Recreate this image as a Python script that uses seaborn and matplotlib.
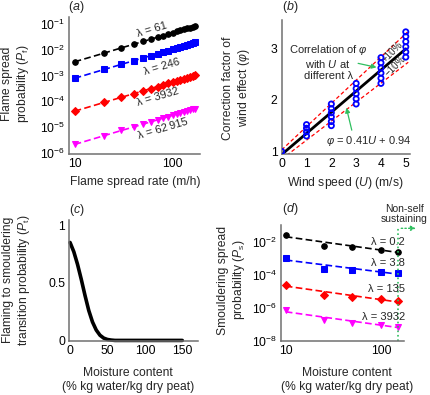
import numpy as np
import seaborn as sns
import matplotlib
matplotlib.use('Agg')
import matplotlib.pyplot as plt
from matplotlib.ticker import FixedLocator, NullLocator, FixedFormatter

# ---- panel (a): flame spread probability vs flame spread rate
spreadRate = [10, 20, 30, 40, 50, 60, 70, 80, 90, 100, 110, 120, 130, 140, 150, 160, 170]
pfLam61 = [3.4e-3, 7.4e-3, 1.18e-2, 1.63e-2, 2.09e-2, 2.57e-2, 3.06e-2, 3.56e-2, 4.07e-2,
	4.59e-2, 5.11e-2, 5.64e-2, 6.17e-2, 6.72e-2, 7.26e-2, 7.81e-2, 8.37e-2]
pfLam246 = [7.8e-4, 1.71e-3, 2.7e-3, 3.74e-3, 4.8e-3, 5.9e-3, 7.0e-3, 8.2e-3, 9.3e-3,
	1.05e-2, 1.17e-2, 1.29e-2, 1.42e-2, 1.54e-2, 1.67e-2, 1.79e-2, 1.92e-2]
pfLam3932 = [4.1e-5, 9.0e-5, 1.42e-4, 1.96e-4, 2.53e-4, 3.1e-4, 3.7e-4, 4.3e-4, 4.9e-4,
	5.5e-4, 6.2e-4, 6.8e-4, 7.4e-4, 8.1e-4, 8.8e-4, 9.4e-4, 1.01e-3]
pfLam62915 = [2.1e-6, 4.6e-6, 7.3e-6, 1.0e-5, 1.29e-5, 1.59e-5, 1.89e-5, 2.2e-5, 2.5e-5,
	2.83e-5, 3.16e-5, 3.48e-5, 3.81e-5, 4.15e-5, 4.49e-5, 4.83e-5, 5.17e-5]
lambdaA = ['61', '246', '3932', '62\u2009915']

# ---- panel (b): wind correction factor
windSpeed = [0,
	1, 1, 1, 1,
	2, 2, 2, 2, 2, 2,
	3, 3, 3, 3, 3,
	4, 4, 4, 4, 4, 4,
	5, 5, 5, 5, 5, 5]
phiVals = [1.0,
	1.30, 1.38, 1.45, 1.52,
	1.50, 1.58, 1.67, 1.75, 1.83, 1.92,
	1.92, 2.02, 2.12, 2.22, 2.32,
	2.32, 2.42, 2.52, 2.62, 2.72, 2.82,
	2.83, 2.93, 3.03, 3.13, 3.23, 3.32]
fitU = [0, 5]
fitPhi = [0.94, 2.99]
bandU = [0, 5.1]
upperPhi = [1.03, 3.33]
lowerPhi = [0.85, 2.73]

# ---- panel (c): flaming to smouldering transition
moistureC = [0, 5, 10, 15, 20, 25, 30, 35, 40, 45, 50, 55, 60, 80, 100, 120, 150]
ptVals = [0.85, 0.77, 0.66, 0.53, 0.39, 0.26, 0.16, 0.09, 0.045, 0.02, 0.008, 0.003, 0.0,
	0.0, 0.0, 0.0, 0.0]

# ---- panel (d): smouldering spread probability
moistureD = [10, 25, 50, 100, 150]
psLam02 = [2.5e-2, 5.3e-3, 4.5e-3, 3.0e-3, 2.4e-3]
psLam38 = [9.5e-4, 2.1e-4, 1.9e-4, 1.5e-4, 1.2e-4]
psLam135 = [2.3e-5, 5.7e-6, 4.2e-6, 3.3e-6, 2.6e-6]
psLam3932 = [7.0e-7, 1.7e-7, 1.2e-7, 8.7e-8, 6.9e-8]
fitMoist = [10, 150]
fitLam02 = [1.95e-2, 2.2e-3]
fitLam38 = [7.6e-4, 1.07e-4]
fitLam135 = [2.0e-5, 2.2e-6]
fitLam3932 = [5.6e-7, 6.3e-8]
lambdaD = ['0.2', '3.8', '135', '3932']

colors = ['black', '#0000ff', '#ff0000', '#ff00ff']
markers = ['o', 's', 'D', 'v']
green = '#2fbf5f'

sns.set_theme(style='ticks')
plt.rcParams['font.family'] = ['Liberation Sans', 'DejaVu Sans']
plt.rcParams['mathtext.fontset'] = 'custom'
plt.rcParams['mathtext.rm'] = 'Liberation Sans'
plt.rcParams['mathtext.it'] = 'Liberation Sans:italic'
plt.rcParams['mathtext.bf'] = 'Liberation Sans:bold'

W, H = 430, 395
fs = 8.7

def px(x, y):
	return x / W, 1 - y / H

def makeAxes(fig, left, top, right, bottom):
	ax = fig.add_axes([left / W, 1 - bottom / H, (right - left) / W, (bottom - top) / H])
	for s in ['top', 'right']:
		ax.spines[s].set_visible(False)
	for s in ['left', 'bottom']:
		ax.spines[s].set_color('#707070')
		ax.spines[s].set_linewidth(1.1)
	ax.tick_params(length=0, pad=3, labelsize=fs, colors='black')
	return ax

def plotA(ax):
	ax.set_xscale('log')
	ax.set_yscale('log')
	series = [pfLam61, pfLam246, pfLam3932, pfLam62915]
	for vals, c, m in zip(series, colors, markers):
		sns.lineplot(x=spreadRate, y=vals, ax=ax, color=c, marker=m, markersize=4.0,
			markeredgecolor=c, linestyle=(0, (4, 2)), linewidth=1.2, estimator=None)
	ax.set_xlim(8.75, 190)
	ax.set_ylim(10**-6.05, 10**-0.71)
	ax.xaxis.set_major_locator(FixedLocator([10, 100]))
	ax.xaxis.set_major_formatter(FixedFormatter(['10', '100']))
	ax.xaxis.set_minor_locator(NullLocator())
	ax.yaxis.set_major_locator(FixedLocator([1e-6, 1e-5, 1e-4, 1e-3, 1e-2, 1e-1]))
	ax.yaxis.set_minor_locator(NullLocator())
	ax.set_xlabel('')
	ax.set_ylabel('')

	labelPos = [(61.5, 0.058), (76.7, 2.2e-3), (70.8, 1.4e-4), (79.5, 8.7e-6)]
	for (x, y), lam in zip(labelPos, lambdaA):
		ax.text(x, y, '\u03bb = ' + lam, fontsize=8, rotation=16.5, ha='center', va='center',
			rotation_mode='anchor')

def plotB(ax):
	sns.lineplot(x=bandU, y=upperPhi, ax=ax, color='red', linestyle=(0, (3, 2)), linewidth=0.9)
	sns.lineplot(x=bandU, y=lowerPhi, ax=ax, color='red', linestyle=(0, (3, 2)), linewidth=0.9)
	sns.lineplot(x=fitU, y=fitPhi, ax=ax, color='black', linewidth=2.0)
	sns.scatterplot(x=windSpeed, y=phiVals, ax=ax, s=14, facecolor='none', edgecolor='#0000ff',
		linewidth=1.3, zorder=5)
	ax.set_xlim(0, 5.17)
	ax.set_ylim(0.95, 3.55)
	ax.set_xticks([0, 1, 2, 3, 4, 5])
	ax.set_yticks([1, 2, 3])
	ax.set_xlabel('')
	ax.set_ylabel('')

	ax.text(1.87, 2.735, 'Correlation of $\\varphi$\nwith $\\mathit{U}$ at\ndifferent \u03bb',
		fontsize=8, ha='center', va='center', linespacing=1.15)
	ax.annotate('', xy=(3.93, 2.62), xytext=(2.97, 2.72),
		arrowprops=dict(arrowstyle='-|>', color=green, lw=0.9, mutation_scale=7))
	ax.text(3.52, 1.21, '$\\varphi$ = 0.41$\\mathit{U}$ + 0.94', fontsize=8, ha='center', va='center')
	ax.annotate('', xy=(2.58, 1.9), xytext=(2.85, 1.36),
		arrowprops=dict(arrowstyle='-|>', color=green, lw=0.9, mutation_scale=7))
	ax.text(4.45, 2.93, '+10%', fontsize=7, rotation=45, ha='center', va='center')
	ax.text(4.58, 2.66, '\u221210%', fontsize=7, rotation=45, ha='center', va='center')

def plotC(ax):
	sns.lineplot(x=moistureC, y=ptVals, ax=ax, color='black', linewidth=2.6, clip_on=False)
	ax.set_xlim(-1, 171)
	ax.set_ylim(-0.005, 1.045)
	ax.set_xticks([0, 50, 100, 150])
	ax.set_yticks([0, 0.5, 1])
	ax.set_yticklabels(['0', '0.5', '1'])
	ax.set_xlabel('')
	ax.set_ylabel('')

def plotD(ax):
	ax.set_xscale('log')
	ax.set_yscale('log')
	series = [psLam02, psLam38, psLam135, psLam3932]
	fits = [fitLam02, fitLam38, fitLam135, fitLam3932]
	for vals, fit, c, m in zip(series, fits, colors, markers):
		sns.lineplot(x=fitMoist, y=fit, ax=ax, color=c, linestyle=(0, (4, 2)), linewidth=1.2)
		sns.lineplot(x=moistureD, y=vals, ax=ax, color=c, marker=m, markersize=4.0,
			markeredgecolor=c, linestyle='', estimator=None)
	ax.set_xlim(8.9, 175)
	ax.set_ylim(1e-8, 1e-1)
	ax.xaxis.set_major_locator(FixedLocator([10, 100]))
	ax.xaxis.set_major_formatter(FixedFormatter(['10', '100']))
	ax.xaxis.set_minor_locator(NullLocator())
	ax.yaxis.set_major_locator(FixedLocator([1e-8, 1e-6, 1e-4, 1e-2]))
	ax.yaxis.set_minor_locator(NullLocator())
	ax.set_xlabel('')
	ax.set_ylabel('')

	labelY = [9.8e-3, 4.8e-4, 1.26e-5, 2.8e-7]
	for y, lam in zip(labelY, lambdaD):
		ax.text(179.5, y, '\u03bb = ' + lam, fontsize=8, ha='right', va='center')

	# non-self sustaining boundary
	ax.plot([153, 153], [1e-8, 10**-1.2], color=green, linestyle=':', linewidth=1.2, clip_on=False)
	ax.annotate('', xy=(250, 10**-1.2), xytext=(153, 10**-1.2),
		arrowprops=dict(arrowstyle='-|>', color=green, lw=1.0, linestyle=':', mutation_scale=7),
		annotation_clip=False)

fig = plt.figure(figsize=(W / 100, H / 100), dpi=100)

axA = makeAxes(fig, 69, 16.5, 200, 154)
plotA(axA)
axB = makeAxes(fig, 281.7, 20, 410, 154)
plotB(axB)
axC = makeAxes(fig, 69.3, 220, 198, 341)
plotC(axC)
axD = makeAxes(fig, 281, 225, 404, 340.7)
plotD(axD)

for ax in [axA, axB, axC, axD]:
	ax.tick_params(length=0, pad=3, labelsize=fs)

# panel letters
fig.text(*px(76, 7), '($\\mathit{a}$)', fontsize=9, ha='center', va='center')
fig.text(*px(290, 7), '($\\mathit{b}$)', fontsize=9, ha='center', va='center')
fig.text(*px(77, 210), '($\\mathit{c}$)', fontsize=9, ha='center', va='center')
fig.text(*px(290, 209), '($\\mathit{d}$)', fontsize=9, ha='center', va='center')

# axis labels
fig.text(*px(16, 84), 'Flame spread\nprobability ($\\mathit{P}_\\mathrm{f}$)', fontsize=fs,
	rotation=90, ha='center', va='center', multialignment='center')
fig.text(*px(237, 88), 'Correction factor of\nwind effect ($\\varphi$)', fontsize=fs,
	rotation=90, ha='center', va='center', multialignment='center')
fig.text(*px(17, 280), 'Flaming to smouldering\ntransition probability ($\\mathit{P}_\\mathrm{t}$)',
	fontsize=fs, rotation=90, ha='center', va='center', multialignment='center')
fig.text(*px(232, 280), 'Smouldering spread\nprobability ($\\mathit{P}_\\mathrm{s}$)', fontsize=fs,
	rotation=90, ha='center', va='center', multialignment='center')

fig.text(*px(135, 182), 'Flame spread rate (m/h)', fontsize=fs, ha='center', va='center')
fig.text(*px(345, 183), 'Wind speed ($\\mathit{U}$) (m/s)', fontsize=fs, ha='center', va='center')
fig.text(*px(128, 380), 'Moisture content\n(% kg water/kg dry peat)', fontsize=fs,
	ha='center', va='center', multialignment='center')
fig.text(*px(347, 380), 'Moisture content\n(% kg water/kg dry peat)', fontsize=fs,
	ha='center', va='center', multialignment='center')

fig.text(*px(404, 214), 'Non-self\nsustaining', fontsize=7.5, ha='center', va='center',
	multialignment='center', linespacing=1.1)

fig.savefig('out.png', dpi=100)
